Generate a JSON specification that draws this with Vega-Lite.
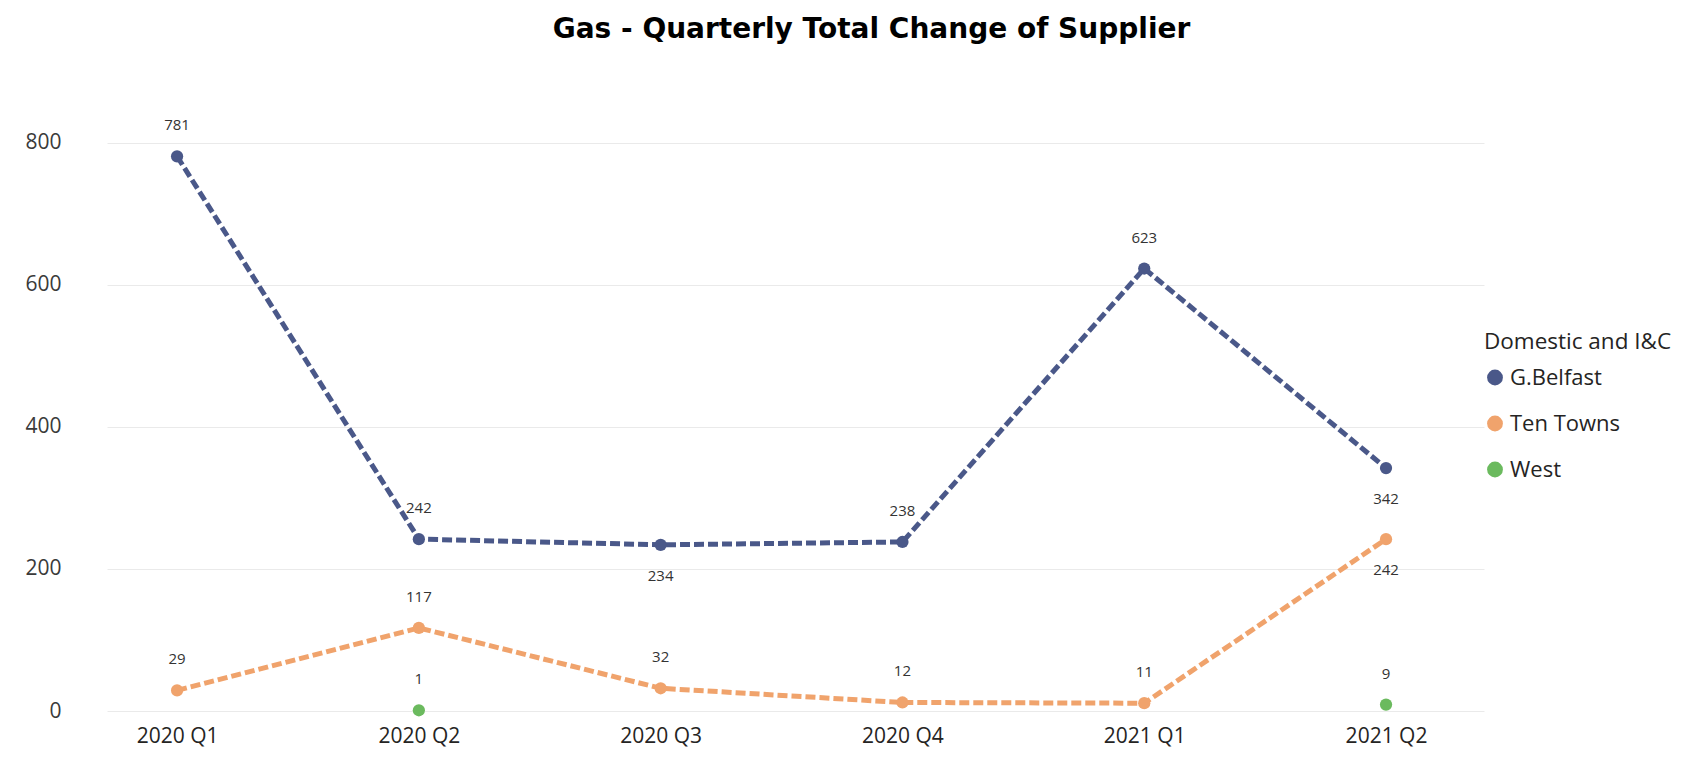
{
  "$schema": "https://vega.github.io/schema/vega-lite/v6.json",
  "autosize": "none",
  "width": 1377,
  "height": 625,
  "padding": {"left": 107, "top": 86, "right": 198, "bottom": 47},
  "background": "white",
  "title": {
    "text": "Gas - Quarterly Total Change of Supplier",
    "font": "DejaVu Sans",
    "fontWeight": "bold",
    "fontSize": 28,
    "color": "#000000",
    "anchor": "middle",
    "dx": 76,
    "offset": 42
  },
  "data": {
    "values": [
      {"quarter": "2020 Q1", "series": "G.Belfast", "value": 781},
      {"quarter": "2020 Q2", "series": "G.Belfast", "value": 242},
      {"quarter": "2020 Q3", "series": "G.Belfast", "value": 234},
      {"quarter": "2020 Q4", "series": "G.Belfast", "value": 238},
      {"quarter": "2021 Q1", "series": "G.Belfast", "value": 623},
      {"quarter": "2021 Q2", "series": "G.Belfast", "value": 342},
      {"quarter": "2020 Q1", "series": "Ten Towns", "value": 29},
      {"quarter": "2020 Q2", "series": "Ten Towns", "value": 117},
      {"quarter": "2020 Q3", "series": "Ten Towns", "value": 32},
      {"quarter": "2020 Q4", "series": "Ten Towns", "value": 12},
      {"quarter": "2021 Q1", "series": "Ten Towns", "value": 11},
      {"quarter": "2021 Q2", "series": "Ten Towns", "value": 242},
      {"quarter": "2020 Q2", "series": "West", "value": 1},
      {"quarter": "2021 Q2", "series": "West", "value": 9}
    ]
  },
  "encoding": {
    "x": {
      "field": "quarter",
      "type": "ordinal",
      "sort": ["2020 Q1", "2020 Q2", "2020 Q3", "2020 Q4", "2021 Q1", "2021 Q2"],
      "scale": {"type": "point", "padding": 0.3475, "align": 0.417},
      "axis": {
        "title": null,
        "labelAngle": 0,
        "domain": false,
        "ticks": false,
        "grid": false,
        "labelPadding": 14,
        "labelFont": "Open Sans",
        "labelFontSize": 21,
        "labelColor": "#252423"
      }
    },
    "y": {
      "field": "value",
      "type": "quantitative",
      "scale": {"domain": [0, 880], "nice": false},
      "axis": {
        "title": null,
        "values": [0, 200, 400, 600, 800],
        "domain": false,
        "ticks": false,
        "grid": true,
        "gridColor": "#EAEAEA",
        "gridWidth": 1,
        "labelPadding": 46,
        "labelFont": "Open Sans",
        "labelFontSize": 21,
        "labelColor": "#3A3A3A"
      }
    }
  },
  "layer": [
    {
      "transform": [{"filter": "datum.series !== 'West'"}],
      "mark": {"type": "line", "strokeWidth": 5, "strokeDash": [10, 4]},
      "encoding": {
        "color": {
          "field": "series",
          "type": "nominal",
          "scale": {
            "domain": ["G.Belfast", "Ten Towns", "West"],
            "range": ["#4A5889", "#F0A36C", "#6BBA5E"]
          },
          "legend": null
        }
      }
    },
    {
      "mark": {"type": "point", "filled": true, "size": 150, "opacity": 1, "shape": "circle"},
      "encoding": {
        "color": {
          "field": "series",
          "type": "nominal",
          "scale": {
            "domain": ["G.Belfast", "Ten Towns", "West"],
            "range": ["#4A5889", "#F0A36C", "#6BBA5E"]
          },
          "legend": {
            "title": "Domestic and I&C",
            "orient": "none",
            "legendX": 1377,
            "legendY": 245,
            "symbolType": "circle",
            "symbolSize": 250,
            "symbolStrokeWidth": 0,
            "symbolOpacity": 1,
            "titleFont": "Open Sans",
            "titleFontSize": 22.5,
            "titleFontWeight": "normal",
            "titleColor": "#252423",
            "titleLimit": 400,
            "titlePadding": 13,
            "labelFont": "Open Sans",
            "labelFontSize": 22,
            "labelColor": "#252423",
            "labelLimit": 300,
            "labelOffset": 4,
            "rowPadding": 24
          }
        }
      }
    },
    {
      "transform": [{"filter": "!((datum.series === 'G.Belfast' && (datum.quarter === '2020 Q3' || datum.quarter === '2021 Q2')) || (datum.series === 'Ten Towns' && datum.quarter === '2021 Q2'))"}],
      "mark": {"type": "text", "dy": -31, "baseline": "middle", "font": "Open Sans", "fontSize": 15, "color": "#333333"},
      "encoding": {"text": {"field": "value", "type": "quantitative"}}
    },
    {
      "transform": [{"filter": "(datum.series === 'G.Belfast' && (datum.quarter === '2020 Q3' || datum.quarter === '2021 Q2')) || (datum.series === 'Ten Towns' && datum.quarter === '2021 Q2')"}],
      "mark": {"type": "text", "dy": 31, "baseline": "middle", "font": "Open Sans", "fontSize": 15, "color": "#333333"},
      "encoding": {"text": {"field": "value", "type": "quantitative"}}
    }
  ],
  "resolve": {"scale": {"color": "shared"}, "legend": {"color": "independent"}},
  "config": {"view": {"stroke": null}}
}
